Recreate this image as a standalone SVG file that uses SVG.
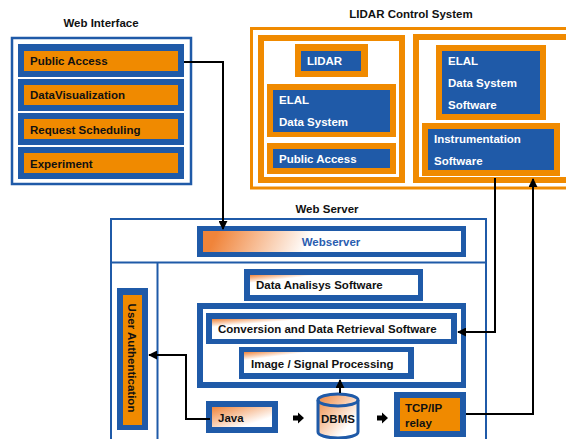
<svg xmlns="http://www.w3.org/2000/svg" width="566" height="439" viewBox="0 0 566 439">
<style>
text{font-family:"Liberation Sans",Arial,sans-serif;font-weight:bold;font-size:11.5px;fill:#111}
.w{fill:#fff}
.blue{fill:#1f5aa8}
.org{fill:#f08a00}
.wht{fill:#fff}
.conn{fill:none;stroke:#000;stroke-width:2}
</style>
<defs>
<linearGradient id="gA" gradientUnits="userSpaceOnUse" x1="220" y1="226" x2="300" y2="262">
<stop offset="0" stop-color="#f0843a"/>
<stop offset="1" stop-color="#fff"/>
</linearGradient>
<linearGradient id="gB" x1="0" y1="0" x2="1" y2="1">
<stop offset="0" stop-color="#f0843a"/>
<stop offset="0.2" stop-color="#fff"/>
</linearGradient>
<linearGradient id="gC" x1="0" y1="0" x2="1" y2="1">
<stop offset="0" stop-color="#f0843a"/>
<stop offset="0.75" stop-color="#fff"/>
</linearGradient>
<marker id="ah" viewBox="0 0 10 10" refX="9" refY="5" markerWidth="4.5" markerHeight="4.5" orient="auto" markerUnits="strokeWidth">
<path d="M0,0 L10,5 L0,10 z" fill="#000"/>
</marker>
</defs>

<!-- Web Interface -->
<g id="web-interface">
<text x="101" y="27" text-anchor="middle">Web Interface</text>
<rect x="12" y="38" width="179" height="146" fill="#fff" stroke="#1f5aa8" stroke-width="2.5"/>
<g id="wi-public-access">
<rect class="blue" x="18" y="44" width="166" height="33"/>
<rect class="org" x="24" y="51" width="154" height="20"/>
<text x="30" y="65">Public Access</text>
</g>
<g id="wi-datavis">
<rect class="blue" x="18" y="79" width="166" height="32"/>
<rect class="org" x="24" y="85" width="154" height="20"/>
<text x="30" y="99">DataVisualization</text>
</g>
<g id="wi-request">
<rect class="blue" x="18" y="113" width="166" height="32"/>
<rect class="org" x="24" y="119" width="154" height="20"/>
<text x="30" y="134">Request Scheduling</text>
</g>
<g id="wi-experiment">
<rect class="blue" x="18" y="147" width="166" height="32"/>
<rect class="org" x="24" y="153" width="154" height="20"/>
<text x="30" y="168">Experiment</text>
</g>
</g>

<!-- LIDAR Control System -->
<g id="lidar-control-system">
<text x="411" y="18" text-anchor="middle">LIDAR Control System</text>
<rect x="251.5" y="28.5" width="330" height="159.5" fill="#fff" stroke="#f08a00" stroke-width="3"/>
<rect x="261" y="38" width="141" height="142" fill="#fff" stroke="#f08a00" stroke-width="6"/>
<rect x="416" y="37" width="160" height="143" fill="#fff" stroke="#f08a00" stroke-width="6"/>
<g id="lidar">
<rect class="org" x="295" y="44" width="73" height="33"/>
<rect class="blue" x="301" y="51" width="60" height="20"/>
<text class="w" x="307" y="65">LIDAR</text>
</g>
<g id="elal-data-system">
<rect class="org" x="267" y="84" width="129" height="53"/>
<rect class="blue" x="273" y="90" width="117" height="42"/>
<text class="w" x="279" y="104">ELAL</text>
<text class="w" x="279" y="126">Data System</text>
</g>
<g id="lidar-public-access">
<rect class="org" x="267" y="143" width="129" height="31"/>
<rect class="blue" x="273" y="149" width="117" height="19"/>
<text class="w" x="279" y="163">Public Access</text>
</g>
<g id="elal-software">
<rect class="org" x="436" y="45" width="110" height="75"/>
<rect class="blue" x="442" y="51" width="98" height="63"/>
<text class="w" x="448" y="65">ELAL</text>
<text class="w" x="448" y="87">Data System</text>
<text class="w" x="448" y="109">Software</text>
</g>
<g id="instrumentation-software">
<rect class="org" x="422" y="123" width="138" height="53"/>
<rect class="blue" x="428" y="129" width="126" height="41"/>
<text class="w" x="434" y="143">Instrumentation</text>
<text class="w" x="434" y="165">Software</text>
</g>
</g>

<!-- Web Server -->
<g id="web-server">
<text x="327" y="213" text-anchor="middle">Web Server</text>
<rect x="111" y="219" width="375" height="240" fill="#fff" stroke="#1f5aa8" stroke-width="2"/>
<line x1="111" y1="262.5" x2="486" y2="262.5" stroke="#1f5aa8" stroke-width="2"/>
<line x1="157.5" y1="262.5" x2="157.5" y2="439" stroke="#1f5aa8" stroke-width="2"/>
<g id="webserver">
<rect class="blue" x="197" y="226" width="269" height="31"/>
<rect x="203" y="231" width="258" height="21" fill="url(#gA)"/>
<text x="331" y="246" text-anchor="middle" style="fill:#2a5db0">Webserver</text>
</g>
<g id="data-analysis">
<rect class="blue" x="244" y="269" width="179" height="32"/>
<rect x="250" y="275" width="168" height="20" fill="url(#gB)"/>
<text x="256" y="289">Data Analisys Software</text>
</g>
<g id="processing-group">
<rect class="blue" x="197" y="303" width="269" height="85"/>
<rect class="wht" x="203" y="309" width="258" height="73"/>
</g>
<g id="conversion">
<rect class="blue" x="206" y="313" width="251" height="31"/>
<rect x="212" y="319" width="239" height="20" fill="url(#gB)"/>
<text x="218" y="333">Conversion and Data Retrieval Software</text>
</g>
<g id="image-signal">
<rect class="blue" x="239" y="347" width="175" height="32"/>
<rect x="244" y="352" width="164" height="21" fill="url(#gB)"/>
<text x="251" y="368">Image / Signal Processing</text>
</g>
<g id="user-auth">
<rect class="blue" x="117" y="288" width="31" height="142"/>
<rect class="org" x="123" y="295" width="19" height="130"/>
<text transform="translate(128,358) rotate(90)" text-anchor="middle">User Authentication</text>
</g>
<g id="java">
<rect class="blue" x="206" y="401" width="72" height="32"/>
<rect x="212" y="407" width="60" height="20" fill="url(#gC)"/>
<text x="218" y="422">Java</text>
</g>
<g id="dbms">
<path d="M318,400 L318,432 A20,6 0 0 0 358,432 L358,400 A20,6 0 0 0 318,400 z" fill="url(#gC)" stroke="#1f5aa8" stroke-width="3"/>
<path d="M318,400 A20,6 0 0 0 358,400" fill="none" stroke="#1f5aa8" stroke-width="3"/>
<text x="338" y="423" text-anchor="middle">DBMS</text>
</g>
<g id="tcpip">
<rect class="blue" x="394" y="392" width="72" height="45"/>
<rect class="org" x="400" y="398" width="60" height="33"/>
<text x="405" y="412">TCP/IP</text>
<text x="405" y="427">relay</text>
</g>
</g>

<!-- Connectors -->
<g id="connectors">
<path class="conn" d="M184,62 H223 V229" marker-end="url(#ah)"/>
<path class="conn" d="M495,178 V332 H458" marker-end="url(#ah)"/>
<path class="conn" d="M466,414 H533 V179" marker-end="url(#ah)"/>
<path class="conn" d="M210,419 H186 V355 H149" marker-end="url(#ah)"/>
<path class="conn" d="M340,393 V380" marker-end="url(#ah)"/>
<path d="M293,415.5 h5 v-3 l6,5.5 l-6,5.5 v-3 h-5 z" fill="#000"/>
<path d="M377,415.5 h5 v-3 l6,5.5 l-6,5.5 v-3 h-5 z" fill="#000"/>
</g>
</svg>
